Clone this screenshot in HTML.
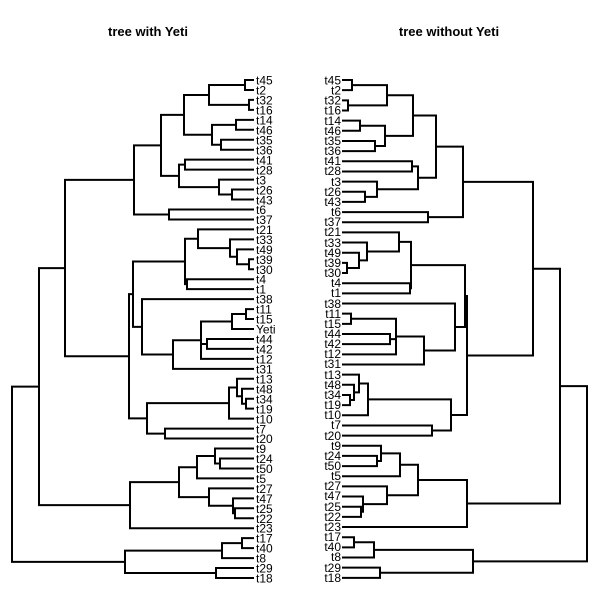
<!DOCTYPE html>
<html><head><meta charset="utf-8"><style>
html,body{margin:0;padding:0;background:#fff;}
svg{display:block;font-family:"Liberation Sans",Arial,sans-serif;}
.t{font-size:12px;fill:#000;}
.h{font-size:13px;font-weight:bold;fill:#000;}
</style></head><body>
<svg id="s" width="600" height="600" viewBox="0 0 600 600" xmlns="http://www.w3.org/2000/svg">
<rect width="600" height="600" fill="#fff"/>
<text class="h" x="148" y="36" text-anchor="middle">tree with Yeti</text>
<text class="h" x="449" y="36" text-anchor="middle">tree without Yeti</text>
<g id="lines" stroke="#000" stroke-width="2" fill="none" stroke-linecap="square"></g>
<g class="t" id="L">
<text x="256" y="84.5">t45</text><text x="256" y="94.5">t2</text><text x="256" y="104.5">t32</text><text x="256" y="114.5">t16</text><text x="256" y="124.5">t14</text><text x="256" y="134.5">t46</text><text x="256" y="144.5">t35</text><text x="256" y="154.5">t36</text><text x="256" y="164.5">t41</text><text x="256" y="174.5">t28</text><text x="256" y="184.5">t3</text><text x="256" y="194.5">t26</text><text x="256" y="204.5">t43</text><text x="256" y="214">t6</text><text x="256" y="224">t37</text><text x="256" y="234">t21</text><text x="256" y="244">t33</text><text x="256" y="254">t49</text><text x="256" y="264">t39</text><text x="256" y="274">t30</text><text x="256" y="283.5">t4</text><text x="256" y="293.5">t1</text><text x="256" y="303.5">t38</text><text x="256" y="313.5">t11</text><text x="256" y="323.5">t15</text><text x="256" y="333.5">Yeti</text><text x="256" y="343.5">t44</text><text x="256" y="353.5">t42</text><text x="256" y="363.5">t12</text><text x="256" y="373.5">t31</text><text x="256" y="383.5">t13</text><text x="256" y="393.5">t48</text><text x="256" y="403.5">t34</text><text x="256" y="413.5">t19</text><text x="256" y="423.5">t10</text><text x="256" y="433.5">t7</text><text x="256" y="443">t20</text><text x="256" y="453">t9</text><text x="256" y="463">t24</text><text x="256" y="473">t50</text><text x="256" y="483">t5</text><text x="256" y="493">t27</text><text x="256" y="503">t47</text><text x="256" y="513">t25</text><text x="256" y="523">t22</text><text x="256" y="532.5">t23</text><text x="256" y="542.5">t17</text><text x="256" y="552.5">t40</text><text x="256" y="562.5">t8</text><text x="256" y="572.5">t29</text><text x="256" y="582.5">t18</text>
</g>
<g class="t" id="R" text-anchor="end">
<text x="341" y="84.5">t45</text><text x="341" y="94.5">t2</text><text x="341" y="104.5">t32</text><text x="341" y="114.5">t16</text><text x="341" y="125">t14</text><text x="341" y="135">t46</text><text x="341" y="145">t35</text><text x="341" y="155">t36</text><text x="341" y="165">t41</text><text x="341" y="175">t28</text><text x="341" y="186">t3</text><text x="341" y="196">t26</text><text x="341" y="206">t43</text><text x="341" y="216">t6</text><text x="341" y="226">t37</text><text x="341" y="236">t21</text><text x="341" y="247">t33</text><text x="341" y="257">t49</text><text x="341" y="267">t39</text><text x="341" y="277">t30</text><text x="341" y="287">t4</text><text x="341" y="297">t1</text><text x="341" y="308">t38</text><text x="341" y="318">t11</text><text x="341" y="328">t15</text><text x="341" y="338">t44</text><text x="341" y="348">t42</text><text x="341" y="358">t12</text><text x="341" y="368">t31</text><text x="341" y="379">t13</text><text x="341" y="389">t48</text><text x="341" y="399">t34</text><text x="341" y="409">t19</text><text x="341" y="419">t10</text><text x="341" y="429">t7</text><text x="341" y="440">t20</text><text x="341" y="450">t9</text><text x="341" y="460">t24</text><text x="341" y="470">t50</text><text x="341" y="480">t5</text><text x="341" y="490">t27</text><text x="341" y="500">t47</text><text x="341" y="511">t25</text><text x="341" y="521">t22</text><text x="341" y="531">t23</text><text x="341" y="541">t17</text><text x="341" y="551">t40</text><text x="341" y="561">t8</text><text x="341" y="572">t29</text><text x="341" y="582">t18</text>
</g>
</svg>
<script>
(function(){
var Ln=["t45","t2","t32","t16","t14","t46","t35","t36","t41","t28","t3","t26","t43","t6","t37","t21","t33","t49","t39","t30","t4","t1","t38","t11","t15","Yeti","t44","t42","t12","t31","t13","t48","t34","t19","t10","t7","t20","t9","t24","t50","t5","t27","t47","t25","t22","t23","t17","t40","t8","t29","t18"];
var Rn=Ln.filter(function(n){return n!=="Yeti";});
var L=[12,
 [39,
  [65,
   [134,
    [161,
     [184,[209,[245,'t45','t2'],[249,'t32','t16']],[212,[236,'t14','t46'],[221,'t35','t36']]],
     [179,[185,'t41','t28'],[219,'t3',[232,'t26','t43']]]],
    [169,'t6','t37']],
   [129,
    [133,
     [185,[198,'t21',[230,'t33',[237,'t49',[249,'t39','t30']]]],[187,'t4','t1']],
     [142,'t38',[173,[201,[232,[246,'t11','t15'],'Yeti'],[207,'t44','t42'],'t12'],'t31']]],
    [147,[229,[237,'t13',[242,'t48',[246,'t34','t19']]],'t10'],[165,'t7','t20']]]],
  [130,[179,[197,[215,'t9',[220,'t24','t50']],'t5'],[209,'t27',[233,'t47',[235,'t25','t22']]]],'t23']],
 [125,[222,[242,'t17','t40'],'t8'],[216,'t29','t18']]];
var R=[587,
 [560,
  [533,
   [463,
    [436,
     [413,[387,[352,'t45','t2'],[348,'t32','t16']],[385,[360,'t14','t46'],[375,'t35','t36']]],
     [418,[412,'t41','t28'],[377,'t3',[365,'t26','t43']]]],
    [428,'t6','t37']],
   [467,
    [465,
     [411,[399,'t21',[367,'t33',[359,'t49',[347,'t39','t30']]]],[410,'t4','t1']],
     [455,'t38',[424,[396,[351,'t11','t15'],[390,'t44','t42'],'t12'],'t31']]],
    [451,[368,[359,'t13',[354,'t48',[350,'t34','t19']]],'t10'],[432,'t7','t20']]]],
  [467,[418,[400,[381,'t9',[377,'t24','t50']],'t5'],[387,'t27',[363,'t47',[361,'t25','t22']]]],'t23']],
 [473,[374,[354,'t17','t40'],'t8'],[380,'t29','t18']]];
var g=document.getElementById('lines'),d='';
function draw(node,names,y0,dy,tipx){
  if(typeof node==='string'){return {x:tipx,y:y0+names.indexOf(node)*dy};}
  var x=node[0],ch=[];
  for(var i=1;i<node.length;i++)ch.push(draw(node[i],names,y0,dy,tipx));
  var ya=ch[0].y,yb=ch[ch.length-1].y,y=(ya+yb)/2;
  d+='M'+x+' '+ya+'V'+yb;
  ch.forEach(function(c){d+='M'+x+' '+c.y+'H'+c.x;});
  return {x:x,y:y};
}
draw(L,Ln,80,9.96,253);
draw(R,Rn,80,10.16,343);
var p=document.createElementNS('http://www.w3.org/2000/svg','path');
p.setAttribute('d',d);g.appendChild(p);
})();
</script>
</body></html>
